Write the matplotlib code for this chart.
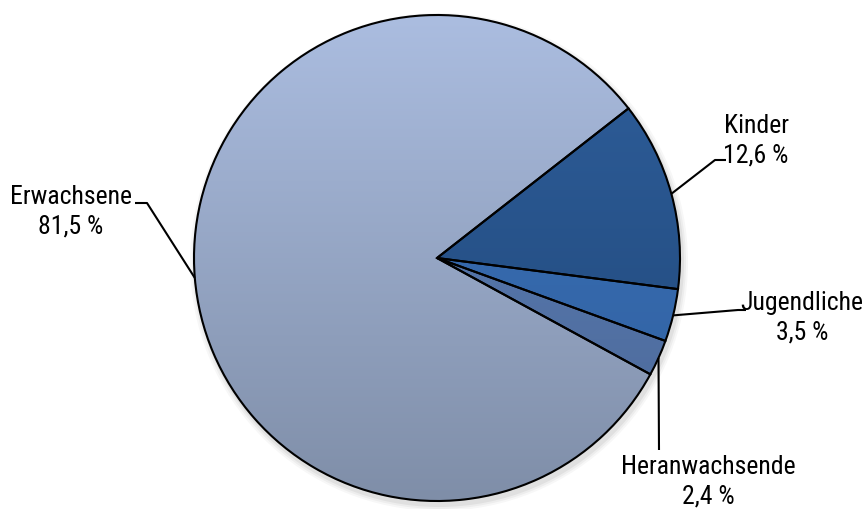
import numpy as np
import matplotlib
matplotlib.use("Agg")
import matplotlib.pyplot as plt
from matplotlib import font_manager
from matplotlib.colors import LinearSegmentedColormap
from matplotlib.patches import Ellipse

categories = ["Kinder", "Jugendliche", "Heranwachsende", "Erwachsene"]
values = [12.6, 3.5, 2.4, 81.5]
value_labels = ["12,6 %", "3,5 %", "2,4 %", "81,5 %"]

# gradient colours (top, bottom)
grad_colors = [("#2f5f9c", "#1f4677"),
               ("#3b72ba", "#30609f"),
               ("#5f82ba", "#4a6797"),
               ("#abbde0", "#7f8ea8")]

available = {f.name for f in font_manager.fontManager.ttflist}
font = None
for cand in ["Liberation Sans Narrow", "Arial Narrow", "Roboto Condensed",
             "Open Sans Condensed", "Roboto"]:
    if cand in available:
        font = cand
        break
font_list = [font, "DejaVu Sans"] if font else ["DejaVu Sans"]

W, H = 865, 509
fig = plt.figure(figsize=(W / 100, H / 100), dpi=100)
ax = fig.add_axes([0, 0, 1, 1])

cx, cy, R = 437, H - 258, 243
start = 38

# soft shadow
for i, a in enumerate([0.05, 0.04, 0.03]):
    ax.add_patch(Ellipse((cx + 2, cy - 4), 2 * R + 4 + 4 * i, 2 * R + 4 + 4 * i,
                         color="black", alpha=a, lw=0, zorder=0))

wedges, _ = ax.pie(values, startangle=start, counterclock=False,
                   center=(cx, cy), radius=R, frame=True,
                   wedgeprops=dict(edgecolor="black", linewidth=1.5))
ax.set_xlim(0, W)
ax.set_ylim(0, H)
ax.set_aspect("equal")
ax.axis("off")

grad = np.linspace(0, 1, 256).reshape(-1, 1)
for w, (ctop, cbot) in zip(wedges, grad_colors):
    cmap = LinearSegmentedColormap.from_list("g", [cbot, ctop])
    im = ax.imshow(grad, cmap=cmap, extent=(cx - R, cx + R, cy - R, cy + R),
                   origin="lower", aspect="auto", zorder=1.5, interpolation="bilinear")
    im.set_clip_path(w)
    w.set_facecolor("none")
    w.set_zorder(2)

fs = 18.5

angles = []
acc = start
for v in values:
    span = v / 100 * 360
    angles.append(acc - span / 2)
    acc -= span

layout = {
    "Kinder": dict(elbow=(715, 160), end=(726, 160), text=(756, 141)),
    "Jugendliche": dict(elbow=(738, 310), end=(746, 310), text=(802, 318)),
    "Heranwachsende": dict(elbow=(659, 450), end=None, text=(708, 482)),
    "Erwachsene": dict(elbow=(147, 203), end=(135, 203), text=(71, 212)),
}

for cat, lab, ang in zip(categories, value_labels, angles):
    L = layout[cat]
    sx = cx + R * np.cos(np.radians(ang))
    sy = cy + R * np.sin(np.radians(ang))
    ex, ey = L["elbow"]
    xs = [sx, ex]
    ys = [sy, H - ey]
    if L["end"] is not None:
        xs.append(L["end"][0])
        ys.append(H - L["end"][1])
    ax.plot(xs, ys, color="black", lw=1.5, zorder=3, solid_capstyle="butt")
    tx, ty = L["text"]
    ax.text(tx, H - ty, f"{cat}\n{lab}", ha="center", va="center",
            fontsize=fs, family=font_list, linespacing=1.3, zorder=4)

fig.savefig("out.png", dpi=100)
